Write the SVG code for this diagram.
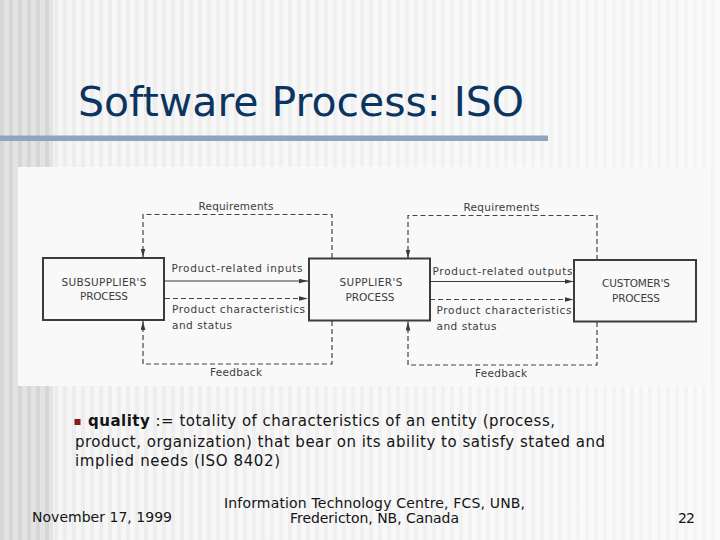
<svg xmlns="http://www.w3.org/2000/svg" width="720" height="540" viewBox="0 0 720 540">
  <defs>
    <pattern id="stripesDark" x="0" y="0" width="9" height="10" patternUnits="userSpaceOnUse">
      <rect width="9" height="10" fill="#e3e3e3"/>
      <rect x="0" width="4" height="10" fill="#d6d6d6"/>
    </pattern>
    <pattern id="stripesLight" x="0" y="0" width="9" height="10" patternUnits="userSpaceOnUse">
      <rect width="9" height="10" fill="#f6f6f6"/>
      <rect x="0" width="4" height="10" fill="#ececec"/>
    </pattern>
    <linearGradient id="fade" x1="0" y1="0" x2="1" y2="0">
      <stop offset="0" stop-color="#ffffff" stop-opacity="0"/>
      <stop offset="1" stop-color="#ffffff" stop-opacity="0.45"/>
    </linearGradient>
    <marker id="arr" markerUnits="userSpaceOnUse" markerWidth="10" markerHeight="6" refX="9" refY="2.3" orient="auto">
      <path d="M0,0 L9,2.3 L0,4.6 z" fill="#3a3a3a"/>
    </marker>
    <style>
      .title { font-family: "DejaVu Sans", Verdana, sans-serif; font-size: 40px; fill: #0b3560; }
      .body { font-family: "DejaVu Sans", Verdana, sans-serif; font-size: 15px; fill: #141414; }
      .foot { font-family: "DejaVu Sans", Verdana, sans-serif; font-size: 14px; fill: #141414; }
      .lbl { font-family: "DejaVu Sans", Verdana, sans-serif; font-size: 10.5px; fill: #3c3c3c; }
      .box { fill: none; stroke: #3c3c3c; stroke-width: 2; }
      .solid { fill: none; stroke: #3a3a3a; stroke-width: 1.2; }
      .dash { fill: none; stroke: #444; stroke-width: 1.2; stroke-dasharray: 5 3; }
    </style>
  </defs>

  <!-- background -->
  <rect x="0" y="0" width="720" height="540" fill="url(#stripesLight)"/>
  <rect x="0" y="0" width="720" height="540" fill="url(#fade)"/>
  <rect x="0" y="0" width="53" height="540" fill="url(#stripesDark)"/>

  <!-- title -->
  <text class="title" x="78" y="116" textLength="446" lengthAdjust="spacingAndGlyphs">Software Process: ISO</text>
  <rect x="0" y="135.5" width="548" height="5.5" fill="#8fa5bf"/>

  <!-- diagram picture area -->
  <rect x="18" y="167" width="690" height="219" fill="#f9f9f9"/>

  <g id="connectors">
    <!-- requirements loops -->
    <path class="dash" d="M332,258 V214.5 H143 V257.5" marker-end="url(#arr)"/>
    <path class="dash" d="M597,260 V215.5 H408 V258.5" marker-end="url(#arr)"/>
    <!-- feedback loops -->
    <path class="dash" d="M332,321 V364 H143 V321" marker-end="url(#arr)"/>
    <path class="dash" d="M597,322 V365 H408 V321.5" marker-end="url(#arr)"/>
    <!-- product flows -->
    <path class="solid" d="M165,281 H308" marker-end="url(#arr)"/>
    <path class="dash" d="M165,298.5 H308" marker-end="url(#arr)"/>
    <path class="solid" d="M430,281.5 H573.5" marker-end="url(#arr)"/>
    <path class="dash" d="M430,299.5 H573.5" marker-end="url(#arr)"/>

    <text class="lbl" x="236" y="210" text-anchor="middle" textLength="75">Requirements</text>
    <text class="lbl" x="501.5" y="211" text-anchor="middle" textLength="76">Requirements</text>
    <text class="lbl" x="236" y="376" text-anchor="middle" textLength="52">Feedback</text>
    <text class="lbl" x="501" y="377" text-anchor="middle" textLength="52">Feedback</text>
    <text class="lbl" x="171.5" y="272" textLength="131">Product-related inputs</text>
    <text class="lbl" x="172" y="313" textLength="133">Product characteristics</text>
    <text class="lbl" x="172" y="329" textLength="60">and status</text>
    <text class="lbl" x="432.5" y="275" textLength="140">Product-related outputs</text>
    <text class="lbl" x="436.5" y="313.5" textLength="135">Product characteristics</text>
    <text class="lbl" x="436.5" y="329.5" textLength="60">and status</text>
  </g>

  <g id="subsupplier">
    <rect class="box" x="43" y="258" width="121" height="62"/>
    <text class="lbl" x="104" y="285.5" text-anchor="middle" textLength="85">SUBSUPPLIER'S</text>
    <text class="lbl" x="104" y="300" text-anchor="middle" textLength="48">PROCESS</text>
  </g>

  <g id="supplier">
    <rect class="box" x="309" y="258.5" width="121" height="62"/>
    <text class="lbl" x="371" y="286" text-anchor="middle" textLength="63">SUPPLIER'S</text>
    <text class="lbl" x="370" y="301" text-anchor="middle" textLength="49">PROCESS</text>
  </g>

  <g id="customer">
    <rect class="box" x="574" y="260" width="122" height="61.5"/>
    <text class="lbl" x="636" y="287" text-anchor="middle" textLength="68">CUSTOMER'S</text>
    <text class="lbl" x="636" y="302" text-anchor="middle" textLength="48">PROCESS</text>
  </g>

  <!-- bullet text -->
  <rect x="74.5" y="419" width="6" height="6" fill="#8b1a1a"/>
  <text class="body" x="88" y="426" textLength="467"><tspan font-weight="bold">quality</tspan> := totality of characteristics of an entity (process,</text>
  <text class="body" x="75" y="446.5" textLength="530">product, organization) that bear on its ability to satisfy stated and</text>
  <text class="body" x="75" y="466" textLength="205">implied needs (ISO 8402)</text>

  <!-- footer -->
  <text class="foot" x="32" y="522" textLength="140">November 17, 1999</text>
  <text class="foot" x="374.5" y="508" text-anchor="middle" textLength="301">Information Technology Centre, FCS, UNB,</text>
  <text class="foot" x="374.5" y="523" text-anchor="middle" textLength="169">Fredericton, NB, Canada</text>
  <text class="foot" x="678" y="523" textLength="17">22</text>
</svg>
